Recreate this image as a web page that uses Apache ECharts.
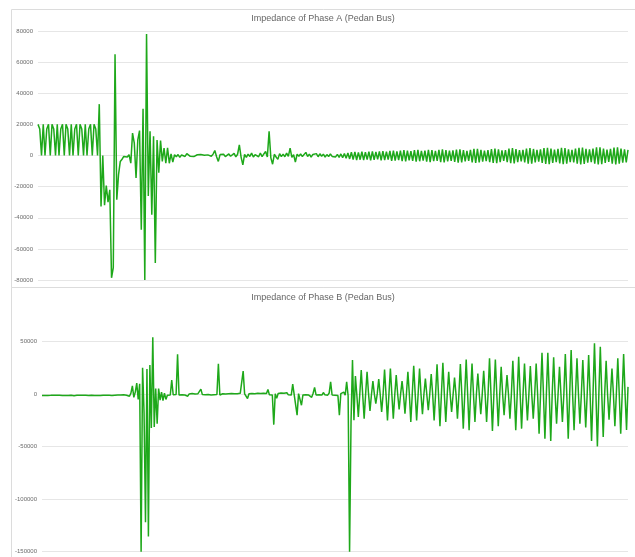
<!DOCTYPE html>
<html>
<head>
<meta charset="utf-8">
<title>Impedance of Phase A / B (Pedan Bus)</title>
<script src="https://cdn.jsdelivr.net/npm/echarts@6/dist/echarts.min.js"></script>
<style>
html, body { margin: 0; padding: 0; background: #fff; }
#chart { width: 635px; height: 557px; }
</style>
</head>
<body>
<div id="chart"></div>
<script>
var titleA = 'Impedance of Phase A (Pedan Bus)';
var titleB = 'Impedance of Phase B (Pedan Bus)';

// y axis: min, max, step
var yAxisA = [-80000, 80000, 20000];
var yAxisB = [-150000, 50000, 50000];

// Phase A samples
var phaseA = [
  20000, 17000, 0, 20000, 0, 17000, 20000, 0, 20000, 17000,
  0, 20000, 0, 17000, 20000, 0, 20000, 17000, 0, 20000,
  0, 17000, 20000, 0, 20000, 17000, 0, 20000, 0, 17000,
  20000, 0, 20000, 17000, 0, 33000, -32700, 0, -32000, -19300,
  -30000, -22000, -78600, -72000, 65000, -28400, -12300, -3800, -2400, -600,
  0, -1000, 500, -4900, 14400, 7950, -14500, 10000, 16000, -47700,
  30000, -80000, 78000, -26000, 15500, -38000, 12300, -69000, 10000, -11000,
  9600, -3800, 4700, -5000, 5000, -5000, 1000, -4300, 500, -800,
  600, -1200, 300, 800, -600, 1200, 2000, -500, 400, -700,
  300, 500, -400, 600, -300, 200, -600, 400, 700, -500,
  900, 3200, -800, -3800, 600, -400, 800, -700, 300, 1000,
  -500, 600, 1400, -900, 800, 6800, -1000, -6000, 700, -1200,
  900, -600, 1500, -1000, 500, 1200, -800, 1600, -700, 1000,
  2600, -900, 15500, -1500, -5600, 800, -1000, -2500, 1200, -700,
  900, -800, 1500, -600, 4700, -1200, 600, -4300, 800, -500,
  1000, -700, 500, 2000, -600, 900, -1100, 700, -400, 1200,
  -800, 1100, -500, 900, -1000, 600, -700, 1000, -600, 500,
  -900, 700, -1200, 1000, -1400, 1300, -1800, 1600, -2200, 2100,
  -2600, 2300, -2900, 2000, -2700, 2400, -3000, 2200, -2600, 2500,
  -3100, 2700, -2800, 2300, -2500, 2600, -3200, 2800, -3000, 2400,
  -2700, 2900, -3400, 3100, -3300, 2700, -2900, 3200, -3600, 3400,
  -3800, 3100, -3200, 2800, -3500, 3500, -4000, 3600, -3700, 3000,
  -3300, 3200, -3900, 3700, -4200, 3400, -3600, 2900, -3500, 3600,
  -4300, 3900, -4500, 3500, -3800, 3100, -3400, 3300, -4100, 3800,
  -4600, 4000, -4400, 3400, -3700, 3000, -3500, 3700, -4400, 4200,
  -4800, 4300, -4500, 3600, -3900, 3200, -3600, 3500, -4300, 4100,
  -4700, 4500, -4900, 4000, -4200, 3300, -3500, 3400, -4200, 4400,
  -5000, 4700, -5100, 4100, -4300, 3500, -3800, 3600, -4400, 4500,
  -5200, 4800, -5300, 4200, -4500, 3600, -4000, 3900, -4800, 4700,
  -5400, 5000, -5500, 4400, -4700, 3800, -4200, 4200, -5100, 4900,
  -5600, 4800, -5200, 4000, -4300, 3700, -4400, 4500, -5300, 5000,
  -5700, 5100, -5400, 4300, -4600, 3900, -4300, 4400, -5200, 5200,
  -5800, 5300, -5500, 4500, -4700, 3800, -4100, 4300, -5200, 5100,
  -5700, 5200, -5300, 4400, -4600, 4000, -4500, 3600
];

// Phase B samples
var phaseB = [
  -1200, -900, -1300, -1000, -1200, -800, -1100, -1300, -900, -1200,
  -1000, -1400, -900, -1100, -1300, -1000, -1200, -800, -1300, -1100,
  -900, -1200, -1400, -1000, -1100, -1300, -900, -1200, -1000, -1300,
  -1100, -900, -1200, -1400, -1000, -1100, -1300, -900, -1200, -1000,
  -1300, -1100, -900, -1200, -1000, -1300, -1100, -800, -1200, -1000,
  -900, -1100, -800, -1000, -700, -900, -500, -800, -1000, 0,
  -2000, 1000, 8000, -3000, 2000, 10500, -5000, 10000, -150000, 25200,
  -17000, -122000, 24000, -135400, 27700, -32200, 54200, -31200, 5400, -28000,
  5400, -5700, 2000, -6000, 1000, -5000, -1000, 500, -800, 13400,
  -500, 600, -300, 38000, -700, 400, -600, 300, -800, 200,
  -1900, 300, -500, 600, -400, 200, -600, 500, -300, 4800,
  -400, 300, -600, 500, -200, 400, -700, 300, -500, 600,
  -300, 29000, -800, -2000, 400, -500, 300, -600, 500, -400,
  600, -300, 500, -700, 400, -500, 800, -400, 22000, 300,
  -700, -4100, 500, -300, 700, -600, 400, -500, 900, -400,
  600, -800, 1000, -500, 700, 4500, -600, 800, -800, -29000,
  500, -4000, 600, -900, 1200, -700, 900, -1000, 1400, -600,
  1100, -800, 9600, -500, 900, -20000, 600, 2000, -10500, -700,
  800, -500, 1000, -800, 600, -3000, 900, 6400, -700, 1200,
  -600, 900, -800, 1600, -500, 700, -900, 1100, 11800, -800,
  900, -1000, 700, -1200, -20000, 600, -800, 2000, -900, 11800,
  -1500, -150000, -26500, 32500, -24900,
  17200, -1000, -21700, 0, 22900, -500, -23300, 0,
  21400, 500, -15900, -500, 12400, 0, -8900, 500,
  14300, 0, -16900, 0, 23600, -500, -24900, 0,
  24500, 0, -23300, -500, 18200, 0, -14600, 0,
  12400, -500, -18500, 0, 21400, 0, -26500, 0,
  27100, 500, -24900, -500, 24500, 0, -19100, 0,
  15000, -500, -15300, 0, 19100, 0, -24900, 0,
  28400, 0, -30600, 0, 29900, 500, -26500, 0,
  21400, 0, -16900, -500, 15900, 0, -23300, 0,
  28700, 0, -32800, 0, 33100, 0, -34400, 500,
  29300, 0, -26500, 0, 19700, -500, -19100, 0,
  22300, 0, -26500, 0, 34100, 500, -35100, 0,
  33100, 0, -30600, -500, 26100, 0, -20100, 0,
  18200, 0, -23300, 0, 31800, 0, -34400, 0,
  35700, 500, -32800, 0, 29300, 0, -24900, 0,
  26800, -500, -23300, 0, 29300, 0, -37600, 0,
  39500, 0, -42400, 0, 39500, 500, -44600, 0,
  35100, 0, -28000, -500, 26100, 0, -26500, 0,
  38200, 0, -42400, 0, 42100, 0, -34400, 0,
  34100, 500, -28000, 0, 32500, 0, -31800, 0,
  37300, 0, -44600, 0, 48500, 0, -49700, 0,
  45200, 500, -40800, 0, 31800, -500, -24200, 0,
  24500, 0, -30600, 0, 34100, 0, -37600, 0,
  38200, 0, -34100, 7000
];

// sample numbers for the category axes
var samplesA = phaseA.map(function (v, i) { return i + 1; });
var samplesB = phaseB.map(function (v, i) { return i + 1; });

var lineColor = '#1ea81a';
var gridColor = '#e6e6e6';
var labelColor = '#6b6b6b';

function yAxis(idx, range) {
  return {
    type: 'value',
    gridIndex: idx,
    min: range[0],
    max: range[1],
    interval: range[2],
    axisLine: { show: false },
    axisTick: { show: false },
    axisLabel: {
      fontSize: 6,
      color: labelColor,
      margin: 5,
      fontFamily: 'Arial, sans-serif',
      formatter: function (v) { return String(v); }
    },
    splitLine: { lineStyle: { color: gridColor, width: 1 } }
  };
}

var chart = echarts.init(document.getElementById('chart'), null, { renderer: 'canvas' });

var option = {
  animation: false,
  backgroundColor: '#ffffff',
  title: [
    {
      text: titleA, left: 323, top: 14, textAlign: 'center', padding: 0,
      textStyle: { fontSize: 9, fontWeight: 'normal', color: '#666', fontFamily: 'Arial, sans-serif' }
    },
    {
      text: titleB, left: 323, top: 293, textAlign: 'center', padding: 0,
      textStyle: { fontSize: 9, fontWeight: 'normal', color: '#666', fontFamily: 'Arial, sans-serif' }
    }
  ],
  graphic: [
    { type: 'rect', silent: true, shape: { x: 11.5, y: 9.5, width: 640, height: 278 },
      style: { fill: 'none', stroke: '#dcdcdc', lineWidth: 1 } },
    { type: 'rect', silent: true, shape: { x: 11.5, y: 287.5, width: 640, height: 300 },
      style: { fill: 'none', stroke: '#dcdcdc', lineWidth: 1 } }
  ],
  grid: [
    { left: 38, right: 7, top: 31, height: 249 },
    { left: 42, right: 7, top: 341.7, height: 210 }
  ],
  xAxis: [
    { type: 'category', gridIndex: 0, data: samplesA, boundaryGap: false, show: false },
    { type: 'category', gridIndex: 1, data: samplesB, boundaryGap: false, show: false }
  ],
  yAxis: [yAxis(0, yAxisA), yAxis(1, yAxisB)],
  series: [
    {
      name: titleA, type: 'line', xAxisIndex: 0, yAxisIndex: 0, data: phaseA,
      showSymbol: false, clip: false, silent: true,
      lineStyle: { color: lineColor, width: 1.5 }
    },
    {
      name: titleB, type: 'line', xAxisIndex: 1, yAxisIndex: 1, data: phaseB,
      showSymbol: false, clip: false, silent: true,
      lineStyle: { color: lineColor, width: 1.5 }
    }
  ]
};

chart.setOption(option);
</script>
</body>
</html>
